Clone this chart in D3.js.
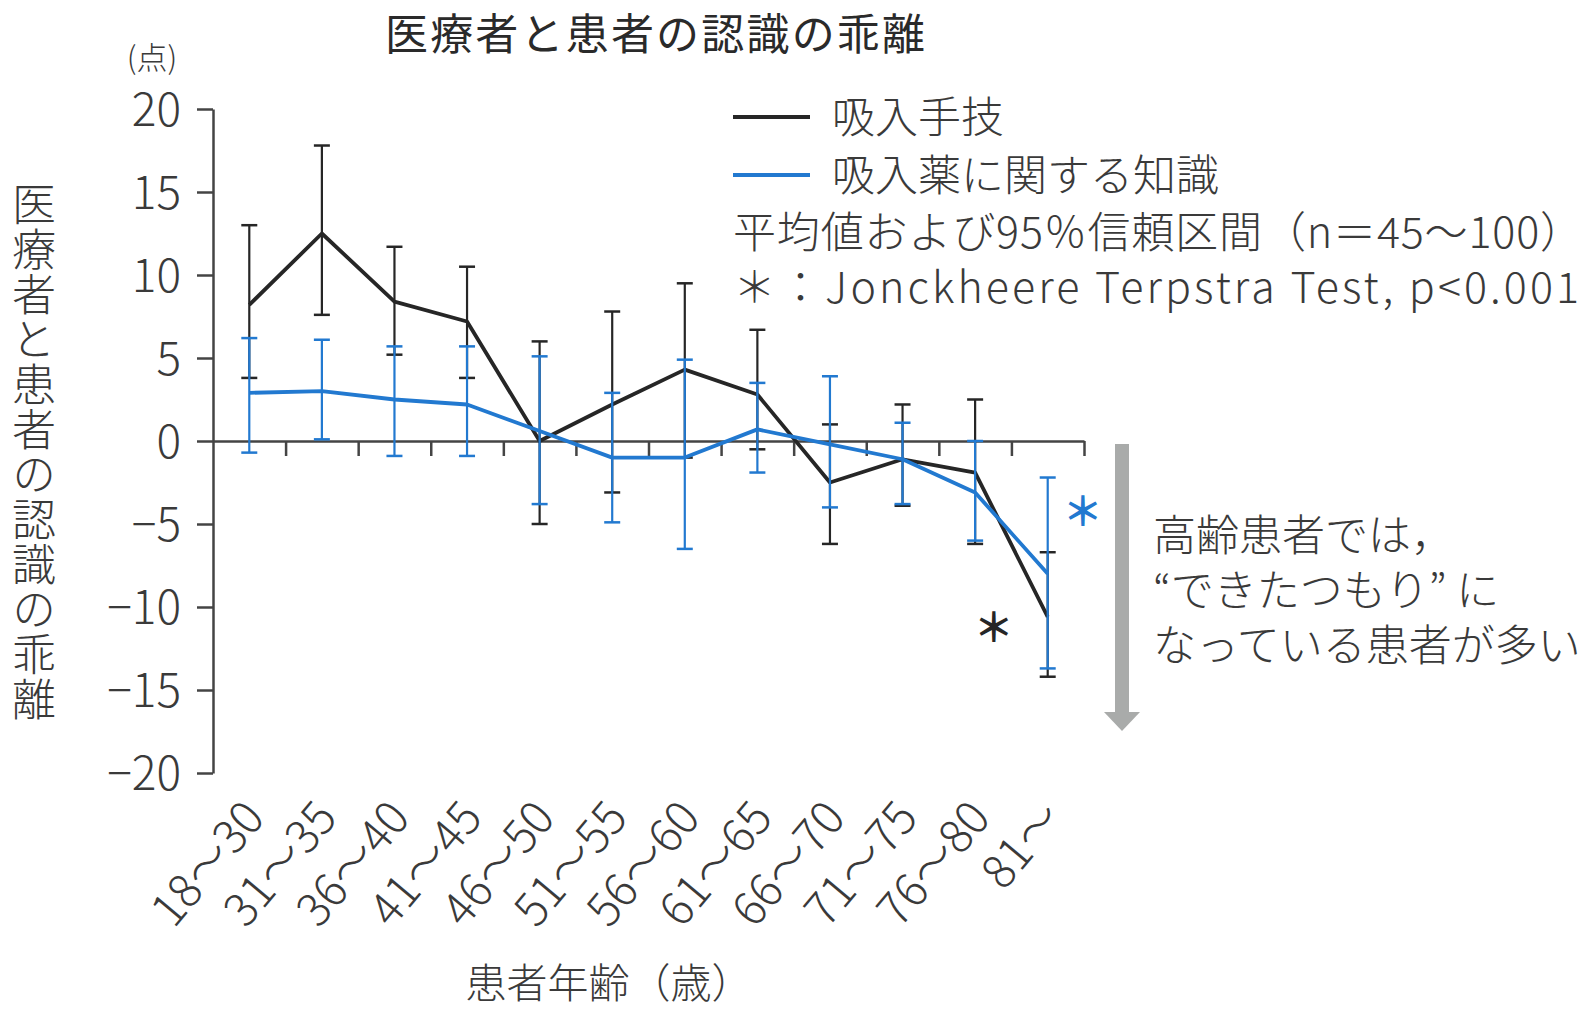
<!DOCTYPE html>
<html>
<head>
<meta charset="utf-8">
<script src="https://cdn.jsdelivr.net/npm/d3@7"></script>
<style>
  body { margin: 0; background: #fff; }
  svg text { font-family: "Noto Sans CJK JP", "Noto Sans", sans-serif; fill: #3a3a3a; }
</style>
</head>
<body>
<div id="chart"></div>
<script>
// 患者年齢カテゴリ
const ageGroups = ["18〜30", "31〜35", "36〜40", "41〜45", "46〜50", "51〜55",
                   "56〜60", "61〜65", "66〜70", "71〜75", "76〜80", "81〜"];

// 吸入手技 (mean + 95% CI)
const techniqueMean = [8.2, 12.5, 8.4, 7.2, 0.0, 2.2, 4.3, 2.8, -2.5, -1.1, -1.9, -10.6];
const techniqueLow  = [3.8, 7.6, 5.2, 3.8, -5.0, -3.1, -1.0, -0.5, -6.2, -3.9, -6.2, -14.2];
const techniqueHigh = [13.0, 17.8, 11.7, 10.5, 6.0, 7.8, 9.5, 6.7, 1.0, 2.2, 2.5, -6.7];

// 吸入薬に関する知識 (mean + 95% CI)
const knowledgeMean = [2.9, 3.0, 2.5, 2.2, 0.6, -1.0, -1.0, 0.7, -0.2, -1.1, -3.1, -8.0];
const knowledgeLow  = [-0.7, 0.1, -0.9, -0.9, -3.8, -4.9, -6.5, -1.9, -4.0, -3.8, -6.0, -13.7];
const knowledgeHigh = [6.2, 6.1, 5.7, 5.7, 5.1, 2.9, 4.9, 3.5, 3.9, 1.1, 0.0, -2.2];

const yTicks = [20, 15, 10, 5, 0, -5, -10, -15, -20];

const width = 1593;
const height = 1009;

const svg = d3.select("#chart")
    .append("svg")
    .attr("width", width)
    .attr("height", height);

const x = d3.scaleBand()
    .domain(ageGroups)
    .range([213, 1084]);

const y = d3.scaleLinear()
    .domain([-20, 20])
    .range([773, 109]);

const cx = d => x(d) + x.bandwidth() / 2;

// Title
svg.append("text")
    .attr("x", 655).attr("y", 31)
    .attr("text-anchor", "middle")
    .attr("dominant-baseline", "central")
    .style("font-size", "43px")
    .style("font-weight", 400)
    .style("fill", "#2a2a2a")
    .attr("textLength", 540)
    .attr("lengthAdjust", "spacing")
    .text("医療者と患者の認識の乖離");

// unit label
svg.append("text")
    .attr("x", 152).attr("y", 55)
    .attr("text-anchor", "middle")
    .attr("dominant-baseline", "central")
    .style("font-size", "31px")
    .style("font-weight", 300)
    .text("(点)");

// y axis
const yAxis = svg.append("g")
    .attr("transform", "translate(213,0)")
    .call(d3.axisLeft(y)
        .tickValues(yTicks)
        .tickSize(16)
        .tickSizeOuter(0)
        .tickPadding(16)
        .tickFormat(d => d < 0 ? "−" + Math.abs(d) : d));
yAxis.select(".domain").attr("stroke", "#444").attr("stroke-width", 2.5);
yAxis.selectAll(".tick line").attr("stroke", "#444").attr("stroke-width", 2.5);
yAxis.selectAll(".tick text")
    .style("font-size", "46px")
    .style("font-weight", 300)
    .style("fill", "#3a3a3a")
    .attr("dy", "0.35em");

// y axis title (vertical)
svg.append("text")
    .attr("x", 34).attr("y", 182)
    .style("writing-mode", "vertical-rl")
    .style("font-size", "44px")
    .style("font-weight", 300)
    .style("letter-spacing", "1px")
    .text("医療者と患者の認識の乖離");

// x axis at zero, ticks at band boundaries
const xBound = d3.scaleLinear().domain([0, ageGroups.length]).range(x.range());
const xAxis = svg.append("g")
    .attr("transform", `translate(0,${y(0)})`)
    .call(d3.axisBottom(xBound)
        .tickValues(d3.range(1, ageGroups.length + 1))
        .tickSize(15)
        .tickSizeOuter(0)
        .tickFormat(""));
xAxis.select(".domain").attr("stroke", "#444").attr("stroke-width", 2.5);
xAxis.selectAll(".tick line").attr("stroke", "#444").attr("stroke-width", 2.5);

// x category labels, rotated
svg.append("g")
    .selectAll("text")
    .data(ageGroups)
    .enter()
    .append("text")
    .attr("transform", d => `translate(${cx(d) + 2},${806}) rotate(-50)`)
    .attr("text-anchor", "end")
    .attr("dominant-baseline", "central")
    .style("font-size", "46px")
    .style("font-weight", 300)
    .text(d => d);

// x axis title
svg.append("text")
    .attr("x", 609).attr("y", 980)
    .attr("text-anchor", "middle")
    .attr("dominant-baseline", "central")
    .style("font-size", "41px")
    .style("font-weight", 300)
    .text("患者年齢（歳）");

function drawSeries(mean, low, high, color) {
    const g = svg.append("g");
    const rows = ageGroups.map((d, i) => ({ age: d, m: mean[i], lo: low[i], hi: high[i] }));

    // error bars
    g.selectAll(".bar")
        .data(rows)
        .enter()
        .append("line")
        .attr("x1", d => cx(d.age)).attr("x2", d => cx(d.age))
        .attr("y1", d => y(d.lo)).attr("y2", d => y(d.hi))
        .attr("stroke", color).attr("stroke-width", 2.2);

    ["lo", "hi"].forEach(k => {
        g.selectAll(".cap-" + k)
            .data(rows)
            .enter()
            .append("line")
            .attr("x1", d => cx(d.age) - 8).attr("x2", d => cx(d.age) + 8)
            .attr("y1", d => y(d[k])).attr("y2", d => y(d[k]))
            .attr("stroke", color).attr("stroke-width", 2.5);
    });

    // mean line
    g.append("path")
        .datum(rows)
        .attr("fill", "none")
        .attr("stroke", color)
        .attr("stroke-width", 3.8)
        .attr("stroke-linejoin", "round")
        .attr("d", d3.line().x(d => cx(d.age)).y(d => y(d.m)));
}

drawSeries(techniqueMean, techniqueLow, techniqueHigh, "#262626");
drawSeries(knowledgeMean, knowledgeLow, knowledgeHigh, "#2279d0");

// significance marks
const last = ageGroups[ageGroups.length - 1];
svg.append("text")
    .attr("x", cx(last) - 54).attr("y", y(-11.1))
    .attr("text-anchor", "middle")
    .attr("dominant-baseline", "central")
    .style("font-size", "40px")
    .style("font-weight", 700)
    .style("fill", "#262626")
    .text("＊");
svg.append("text")
    .attr("x", cx(last) + 35).attr("y", y(-4.1))
    .attr("text-anchor", "middle")
    .attr("dominant-baseline", "central")
    .style("font-size", "40px")
    .style("font-weight", 700)
    .style("fill", "#2279d0")
    .text("＊");

// legend
const legendItems = [
    { label: "吸入手技", color: "#262626", cy: 114 },
    { label: "吸入薬に関する知識", color: "#2279d0", cy: 172 }
];
const legend = svg.append("g");
legend.selectAll("line")
    .data(legendItems)
    .enter()
    .append("line")
    .attr("x1", 733).attr("x2", 810)
    .attr("y1", d => d.cy + 3).attr("y2", d => d.cy + 3)
    .attr("stroke", d => d.color)
    .attr("stroke-width", 4);
legend.selectAll("text")
    .data(legendItems)
    .enter()
    .append("text")
    .attr("x", 832).attr("y", d => d.cy)
    .attr("dominant-baseline", "central")
    .style("font-size", "43px")
    .style("font-weight", 300)
    .text(d => d.label);

const notes = [
    { text: "平均値および95％信頼区間（n＝45〜100）", cy: 229, len: 850 },
    { text: "＊：Jonckheere Terpstra Test, p<0.001", cy: 284, len: 846 }
];
svg.append("g")
    .selectAll("text")
    .data(notes)
    .enter()
    .append("text")
    .attr("x", 733).attr("y", d => d.cy)
    .attr("dominant-baseline", "central")
    .attr("textLength", d => d.len)
    .attr("lengthAdjust", "spacing")
    .style("font-size", "43px")
    .style("font-weight", 300)
    .text(d => d.text);

// gray arrow
svg.append("rect")
    .attr("x", 1115).attr("y", 444)
    .attr("width", 14).attr("height", 272)
    .attr("fill", "#a9abaa");
svg.append("path")
    .attr("d", "M1104,712 L1140,712 L1122,731 Z")
    .attr("fill", "#a9abaa");

const remark = ["高齢患者では，", "“できたつもり” に", "なっている患者が多い"];
svg.append("g")
    .selectAll("text")
    .data(remark)
    .enter()
    .append("text")
    .attr("x", 1153).attr("y", (d, i) => 532 + i * 55)
    .attr("dominant-baseline", "central")
    .style("font-size", "43px")
    .style("font-weight", 300)
    .text(d => d);
</script>
</body>
</html>
